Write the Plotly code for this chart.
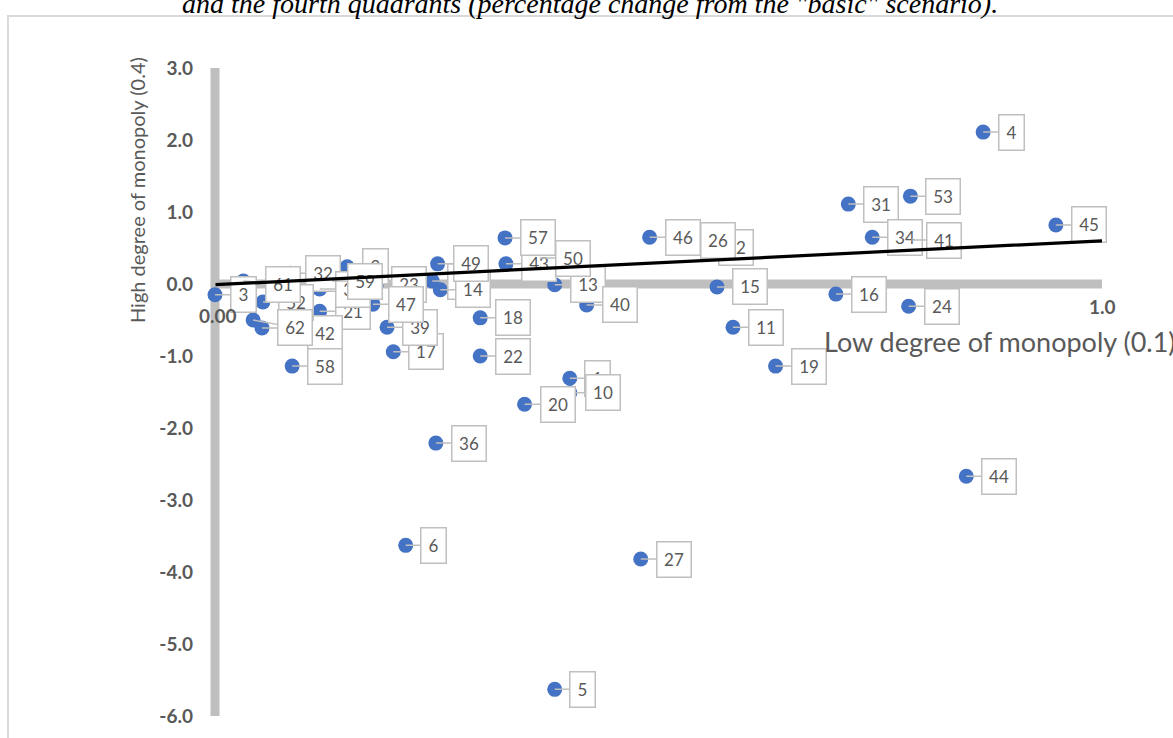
import plotly.graph_objects as go

# Region numbers and their percentage changes
point_ids = [1, 3, 4, 5, 6, 8, 9, 10, 11, 12, 13, 14, 15, 16, 17, 18, 19, 20, 21, 22,
             23, 24, 26, 27, 31, 32, 33, 34, 36, 39, 40, 41, 42, 43, 44, 45, 46, 47,
             49, 50, 52, 53, 57, 58, 59, 61, 62]
low_monopoly = [0.400, 0.000, 0.866, 0.383, 0.215, 0.245, 0.149, 0.400, 0.584, 0.550,
                0.383, 0.254, 0.566, 0.700, 0.201, 0.299, 0.632, 0.349, 0.118, 0.299,
                0.182, 0.782, 0.530, 0.480, 0.714, 0.085, 0.118, 0.741, 0.249, 0.194,
                0.419, 0.785, 0.043, 0.328, 0.847, 0.948, 0.490, 0.178, 0.251, 0.366,
                0.054, 0.784, 0.327, 0.087, 0.132, 0.032, 0.053]
high_monopoly = [-1.31, -0.15, 2.11, -5.63, -3.63, 0.04, 0.24, -1.51, -0.60, 0.51,
                 -0.01, -0.08, -0.04, -0.14, -0.94, -0.47, -1.14, -1.67, -0.38, -1.00,
                 0.00, -0.31, 0.61, -3.82, 1.11, 0.15, -0.07, 0.65, -2.21, -0.60,
                 -0.29, 0.61, -0.50, 0.28, -2.67, 0.82, 0.65, -0.28, 0.28, 0.36,
                 -0.25, 1.22, 0.64, -1.14, 0.04, 0.04, -0.61]

# Linear trend
trend_x = [0.0, 1.0]
trend_y = [-0.01, 0.60]

y_ticks = [3, 2, 1, 0, -1, -2, -3, -4, -5, -6]
y_tick_text = ["3.0", "2.0", "1.0", "0.0", "-1.0", "-2.0", "-3.0", "-4.0", "-5.0", "-6.0"]

GREY_TEXT = "#595959"
AXIS_GREY = "#bfbfbf"
BLUE = "#4472C4"

# callouts that were dragged away from their default place (pixels)
callout_shift = {42: (72, 13), 61: (40, 3)}

fig = go.Figure()

fig.add_trace(go.Scatter(
    x=low_monopoly, y=high_monopoly, mode="markers",
    marker=dict(color=BLUE, size=15, line=dict(width=0)),
    cliponaxis=False, hoverinfo="skip", showlegend=False,
))

# thick grey quadrant axes
fig.add_shape(type="line", xref="x", yref="y", x0=0, x1=0, y0=min(y_ticks), y1=max(y_ticks),
              line=dict(color=AXIS_GREY, width=9), layer="below")
fig.add_shape(type="line", xref="x", yref="y", x0=0, x1=1, y0=0, y1=0,
              line=dict(color=AXIS_GREY, width=9), layer="below")

# outer chart frame
fig.add_shape(type="rect", xref="paper", yref="paper", x0=-0.2183, x1=1.3,
              y0=-0.2, y1=1.0803, line=dict(color="#d9d9d9", width=2), layer="below")

annotations = []
for pid, xv, yv in sorted(zip(point_ids, low_monopoly, high_monopoly)):
    txt = str(pid)
    w = 23 if len(txt) == 2 else 14
    dx, dy = callout_shift.get(pid, (33 if len(txt) == 2 else 28, 0))
    annotations.append(dict(
        x=xv, y=yv, xref="x", yref="y", text=txt, showarrow=True,
        ax=dx, ay=dy, arrowhead=0, arrowwidth=1.5, arrowcolor=AXIS_GREY,
        standoff=0, startstandoff=0,
        bgcolor="white", bordercolor=AXIS_GREY, borderwidth=1.5, borderpad=5,
        width=w, height=24, align="center", valign="middle",
        font=dict(family="Lato", size=17, color=GREY_TEXT),
    ))

# trend line on top of callouts
annotations.append(dict(
    x=trend_x[1], y=trend_y[1], ax=trend_x[0], ay=trend_y[0],
    xref="x", yref="y", axref="x", ayref="y", text="", showarrow=True,
    arrowhead=0, arrowwidth=3.2, arrowcolor="black", standoff=0, startstandoff=0,
    borderpad=0, font=dict(size=1),
))

annotations += [
    dict(text="High degree of monopoly (0.4)", xref="paper", yref="paper",
         x=-0.0746, y=0.8117, xanchor="center", yanchor="middle", textangle=-90,
         showarrow=False, font=dict(family="Lato", size=20, color=GREY_TEXT)),
    dict(text="Low degree of monopoly (0.1)", xref="paper", yref="paper",
         x=0.6882, y=0.5787, xanchor="left", yanchor="middle",
         showarrow=False, font=dict(family="Lato", size=27, color=GREY_TEXT)),
    dict(text="0.00", xref="paper", yref="paper", x=0.0156, y=0.6173,
         xanchor="center", yanchor="middle", showarrow=False,
         font=dict(family="Lato", size=19, color=GREY_TEXT, weight="bold")),
    dict(text="1.0", xref="paper", yref="paper", x=1.0, y=0.6327,
         xanchor="center", yanchor="middle", showarrow=False,
         font=dict(family="Lato", size=19, color=GREY_TEXT, weight="bold")),
    dict(text='and the fourth quadrants (percentage change from the "basic" scenario).',
         xref="paper", yref="paper", x=0.4298, y=1.1001, xanchor="center",
         yanchor="middle", showarrow=False,
         font=dict(family="Liberation Serif", size=28, color="black", style="italic")),
]

fig.update_layout(
    width=1173, height=738,
    margin=dict(l=204, r=71, t=68, b=22),
    paper_bgcolor="white", plot_bgcolor="white",
    showlegend=False,
    annotations=annotations,
    xaxis=dict(range=[-0.0124, 1.0], showgrid=False, zeroline=False,
               showline=False, showticklabels=False, ticks=""),
    yaxis=dict(range=[-6, 3], showgrid=False, zeroline=False, showline=False,
               tickvals=y_ticks, ticktext=y_tick_text, ticks="",
               ticklabelstandoff=10,
               tickfont=dict(family="Lato", size=19, color=GREY_TEXT, weight="bold")),
)

fig.write_html("out.html")
